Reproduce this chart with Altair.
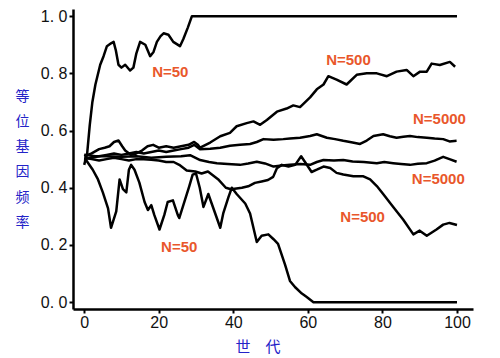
import altair as alt
import pandas as pd

# ---- data (generation, allele frequency) ----
a_gen = [0, 0.8, 1.5, 2.2, 3, 4.3, 5.2, 6.1, 7.2, 7.9, 8.5, 9.2, 10, 11, 12.3, 13.2, 14, 15, 16.4, 17.7,
         18.6, 19.5, 20.5, 21.3, 22.6, 23.9, 25.7, 26.6, 27.8, 28.9, 100]
a_freq = [0.48, 0.52, 0.62, 0.70, 0.76, 0.83, 0.86, 0.895, 0.905, 0.91, 0.88, 0.83, 0.82, 0.83, 0.81, 0.82,
          0.87, 0.91, 0.90, 0.86, 0.875, 0.91, 0.93, 0.94, 0.935, 0.91, 0.895, 0.92, 0.96, 1.0, 1.0]

b_gen = [0, 0.5, 2.3, 3.7, 5, 6.4, 7.2, 8.6, 9.5, 10.4, 11.3, 12, 12.6, 13.5, 14.8, 16.2, 17.1, 18, 18.8,
         20.2, 21.5, 22.4, 23.8, 25.1, 25.5, 28.2, 29.1, 30, 31, 32, 33.3, 34.2, 36.5, 37.3, 38.7, 39.6,
         40.9, 43.2, 44.5, 46.3, 47.6, 49.4, 50.8, 52, 53.9, 55.2, 56.6, 58.4, 59.7, 61.5, 100]
b_freq = [0.5, 0.497, 0.463, 0.429, 0.384, 0.328, 0.26, 0.317, 0.429, 0.395, 0.384, 0.463, 0.48, 0.463,
          0.418, 0.35, 0.322, 0.339, 0.305, 0.254, 0.305, 0.35, 0.356, 0.305, 0.294, 0.406, 0.446, 0.45,
          0.40, 0.333, 0.378, 0.345, 0.26, 0.31, 0.367, 0.40, 0.378, 0.345, 0.31, 0.21, 0.232, 0.237,
          0.22, 0.204, 0.13, 0.074, 0.052, 0.03, 0.018, 0.0, 0.0]

c_gen = [0, 2, 4, 6, 8, 10, 12, 14, 16, 18, 20, 22, 24, 25.5, 27.5, 29.8, 31.5, 33.2, 35.9, 38, 39.4,
         42.3, 44, 45.8, 47.6, 49.3, 50.7, 51.7, 53, 54.8, 56.6, 58.2, 59.5, 61, 62.4, 64.2, 66, 67.7,
         69.5, 72.2, 74.9, 76.7, 78.5, 80.2, 82.9, 85.6, 88.3, 90, 91.9, 94.5, 96.3, 98, 100]
c_freq = [0.505, 0.5, 0.495, 0.5, 0.505, 0.5, 0.495, 0.5, 0.5, 0.498, 0.495, 0.49, 0.49, 0.48, 0.46,
          0.457, 0.45, 0.457, 0.43, 0.40, 0.395, 0.40, 0.405, 0.417, 0.422, 0.427, 0.438, 0.468, 0.48,
          0.474, 0.48, 0.51, 0.485, 0.455, 0.463, 0.474, 0.469, 0.452, 0.446, 0.44, 0.44, 0.429, 0.406,
          0.378, 0.333, 0.288, 0.237, 0.25, 0.232, 0.254, 0.271, 0.277, 0.27]

d_gen = [0, 2, 4, 5.5, 6.8, 8, 9.2, 10.2, 11, 12.5, 14, 15.5, 17, 18.5, 20, 22, 24, 26, 28, 29.5, 30.5,
         31.1, 33.8, 36.5, 39.1, 40.9, 43.6, 45.4, 47.2, 49, 51.7, 54.3, 56.1, 57.9, 60.6, 62.4, 64.2,
         65.5, 67.7, 70.4, 73.1, 75.8, 78.5, 81.2, 83.8, 86.5, 88.3, 90.1, 91.9, 93.2, 95.4, 98.1, 99.5]
d_freq = [0.51, 0.52, 0.535, 0.54, 0.545, 0.56, 0.565, 0.545, 0.53, 0.515, 0.52, 0.53, 0.545, 0.55, 0.54,
          0.545, 0.54, 0.545, 0.55, 0.56, 0.55, 0.54, 0.558, 0.58, 0.592, 0.615, 0.626, 0.632, 0.62,
          0.637, 0.666, 0.677, 0.688, 0.682, 0.716, 0.744, 0.761, 0.79, 0.778, 0.761, 0.795, 0.80, 0.80,
          0.79, 0.806, 0.812, 0.79, 0.806, 0.806, 0.834, 0.829, 0.84, 0.823]

e_gen = [0, 2, 4, 6, 8, 10, 12, 14, 16, 18, 20, 22, 24, 26, 28, 29.5, 31, 33.8, 36.5, 39.1, 41.8, 44.5,
         46.3, 48.1, 50.8, 53.4, 55.2, 57.9, 60.6, 62.4, 65.1, 67.3, 69.5, 72, 74, 75.8, 77.6, 80.2, 82,
         83.8, 85.6, 87.4, 89.5, 91.9, 94, 96.3, 98, 99.9]
e_freq = [0.5, 0.505, 0.51, 0.515, 0.52, 0.515, 0.52, 0.525, 0.52, 0.525, 0.53, 0.525, 0.53, 0.535, 0.54,
          0.55, 0.535, 0.536, 0.54, 0.547, 0.55, 0.553, 0.56, 0.57, 0.568, 0.57, 0.572, 0.575, 0.581,
          0.587, 0.575, 0.57, 0.564, 0.558, 0.553, 0.565, 0.581, 0.587, 0.58, 0.575, 0.578, 0.581, 0.577,
          0.575, 0.572, 0.57, 0.562, 0.564]

f_gen = [0, 3, 6, 10, 14, 18, 22, 26, 28.4, 31.1, 33.5, 35.6, 38.5, 41.8, 44, 46.3, 48.5, 50.8, 53, 55.2,
         58, 60.6, 62.4, 64.2, 67, 69.5, 72, 75, 78.5, 80.5, 82.9, 85, 87.4, 89.5, 91.9, 94, 96.3, 98, 99.9]
f_freq = [0.515, 0.51, 0.51, 0.508, 0.51, 0.505, 0.508, 0.51, 0.514, 0.497, 0.49, 0.486, 0.483, 0.48,
          0.485, 0.491, 0.485, 0.474, 0.478, 0.48, 0.483, 0.48, 0.49, 0.497, 0.495, 0.497, 0.492, 0.49,
          0.486, 0.49, 0.486, 0.483, 0.48, 0.484, 0.486, 0.495, 0.508, 0.5, 0.491]

label_text = ["N=50", "N=500", "N=5000", "N=5000", "N=500", "N=50"]
label_gen = [23.1, 70.9, 95.3, 95.0, 74.7, 25.5]
label_freq = [0.806, 0.848, 0.639, 0.431, 0.296, 0.193]

x_ticks = [0, 20, 40, 60, 80, 100]
y_ticks = [0.0, 0.2, 0.4, 0.6, 0.8, 1.0]

# ---- build tables ----
rows = []
for name, gs, fs in [("A", a_gen, a_freq), ("B", b_gen, b_freq), ("C", c_gen, c_freq),
                     ("D", d_gen, d_freq), ("E", e_gen, e_freq), ("F", f_gen, f_freq)]:
    for i, (g, f) in enumerate(zip(gs, fs)):
        rows.append({"run": name, "gen": g, "freq": f, "i": i})
lines_df = pd.DataFrame(rows)
labels_df = pd.DataFrame({"text": label_text, "gen": label_gen, "freq": label_freq})

xscale = alt.Scale(domain=[-3, 104.3], nice=False, zero=False)
yscale = alt.Scale(domain=[-0.024, 1.025], nice=False, zero=False)

x_axis = alt.Axis(values=x_ticks, title="世　代", titleFont="Noto Sans CJK SC", titleFontSize=15,
                  titleFontWeight="normal", titleColor="#2323c8", titleX=184.5, titleY=37,
                  titleAlign="center", titleBaseline="middle",
                  labelFont="Liberation Sans", labelFontSize=16, labelColor="#111111",
                  labelPadding=1, tickSize=4, tickWidth=2, tickColor="black",
                  domainColor="black", domainWidth=2.5, grid=False)
y_axis = alt.Axis(values=y_ticks, title=["等", "位", "基", "因", "频", "率"],
                  labelExpr="replace(format(datum.value, '.1f'), '.', '. ')",
                  titleFont="Noto Sans CJK SC", titleFontSize=14, titleFontWeight="normal",
                  titleColor="#2323c8", titleAngle=0, titleX=-51, titleY=80,
                  titleAlign="center", titleBaseline="top", titleLineHeight=25.3,
                  labelFont="Liberation Sans", labelFontSize=16, labelColor="#111111",
                  labelPadding=2, tickSize=4, tickWidth=2, tickColor="black",
                  domainColor="black", domainWidth=2.5, grid=False)

lines = alt.Chart(lines_df).mark_line(color="black", strokeWidth=2.5, strokeJoin="round").encode(
    x=alt.X("gen:Q", scale=xscale, axis=x_axis),
    y=alt.Y("freq:Q", scale=yscale, axis=y_axis),
    detail="run:N",
    order="i:Q",
)

labels = alt.Chart(labels_df).mark_text(font="Liberation Sans", fontWeight="bold", fontSize=15,
                                        color="#E9572B", align="center", baseline="middle").encode(
    x=alt.X("gen:Q", scale=xscale),
    y=alt.Y("freq:Q", scale=yscale),
    text="text:N",
)

chart = alt.layer(lines, labels).properties(
    width=400, height=300,
    padding={"left": 7, "top": 0, "right": 5, "bottom": 0},
    background="white",
).configure_view(strokeWidth=0)

chart.save("out.html", embed_options={"renderer": "svg", "actions": False})
